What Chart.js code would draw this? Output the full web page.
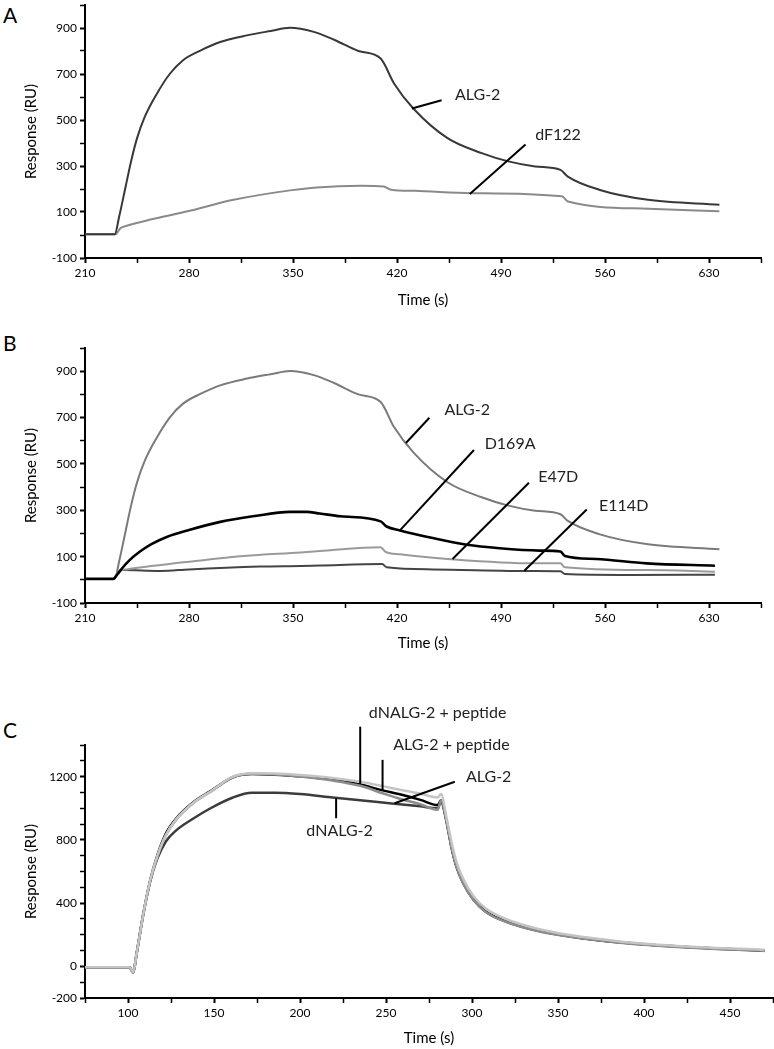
<!DOCTYPE html>
<html>
<head>
<meta charset="utf-8">
<script src="https://cdn.jsdelivr.net/npm/chart.js@4.4.1/dist/chart.umd.min.js"></script>
<style>
  body { margin: 0; background: #fff; }
  #page { position: relative; width: 774px; height: 1049px; font-family: Lato, sans-serif; }
  .panel { position: absolute; left: 0; width: 774px; }
  .letter { position: absolute; left: 3px; font-size: 21px; color: #000; line-height: 1; }
</style>
</head>
<body>
<div id="page">
  <div class="letter" style="top:4px">A</div>
  <div class="letter" style="top:332px">B</div>
  <div class="letter" style="top:719px">C</div>
  <div class="panel" style="top:0;height:320px"><canvas id="chartA"></canvas></div>
  <div class="panel" style="top:320px;height:335px"><canvas id="chartB"></canvas></div>
  <div class="panel" style="top:690px;height:359px"><canvas id="chartC"></canvas></div>
</div>
<script>
// ---- panel A / B : ALG-2 (same sensorgram in both panels)
var timeAlg = [210, 230, 233, 237, 241, 245, 250, 258, 267, 276, 288, 301, 319, 335, 348, 364, 378, 394, 409, 418, 431, 454, 477, 495, 513, 530, 535, 556, 589, 637];
var respAlg = [3, 3, 80, 200, 320, 420, 510, 610, 700, 760, 803, 839, 868, 887, 901, 883, 848, 800, 767, 659, 550, 421, 356, 320, 298, 283, 254, 197, 153, 132];

var timeDF122 = [210, 230, 231, 234, 238, 254, 279, 310, 348, 366, 396, 411, 416, 432, 470, 531, 535, 589, 637];
var respDF122 = [3, 3, 5, 30, 40, 67, 103, 153, 194, 207, 214, 211, 197, 192, 182, 168, 146, 114, 103];

// ---- panel B mutants
var timeD169A = [210, 229, 232, 235, 240, 247, 255, 265, 280, 301, 323, 348, 359, 368, 382, 409, 413, 422, 444, 467, 489, 516, 530, 533, 554, 588, 634];
var respD169A = [4, 4, 25, 50, 85, 122, 155, 185, 215, 250, 274, 293, 293, 286, 274, 252, 230, 213, 180, 151, 136, 126, 122, 103, 90, 71, 61];

var timeE47D = [210, 229, 233, 238, 280, 317, 355, 368, 409, 412, 422, 456, 512, 530, 533, 588, 634];
var respE47D = [4, 4, 38, 45, 78, 103, 118, 124, 141, 122, 110, 89, 71, 71, 54, 42, 35];

var timeE114D = [210, 229, 233, 235, 261, 280, 328, 355, 368, 410, 413, 444, 512, 530, 533, 577, 634];
var respE114D = [4, 4, 38, 42, 38, 45, 57, 60, 62, 68, 54, 45, 38, 37, 25, 21, 22];

// ---- panel C
var timeC = [75, 101, 103, 105, 109, 113, 117, 122, 128, 138, 148, 161, 172, 185, 200, 219, 235, 248, 258, 270, 280, 282, 285, 288, 291, 295, 301, 308, 320, 338, 357, 386, 425, 470];
var respDNPep = [-5, -5, -40, 80, 337, 548, 700, 840, 935, 1038, 1108, 1196, 1216, 1212, 1202, 1180, 1150, 1113, 1088, 1053, 1020, 1050, 930, 760, 632, 527, 421, 347, 284, 227, 190, 152, 122, 100];
var respAlgPep = [-5, -5, -40, 80, 337, 548, 695, 830, 930, 1035, 1106, 1200, 1222, 1219, 1210, 1192, 1167, 1140, 1117, 1092, 1068, 1090, 950, 790, 660, 550, 442, 366, 298, 238, 198, 158, 126, 104];
var respAlgC = [-5, -5, -40, 80, 337, 548, 695, 830, 928, 1033, 1104, 1195, 1218, 1213, 1200, 1175, 1142, 1095, 1060, 1025, 990, 1050, 925, 755, 628, 522, 418, 344, 280, 224, 187, 150, 120, 98];
var respDN = [-5, -5, -40, 80, 337, 540, 680, 790, 860, 935, 1000, 1068, 1098, 1098, 1090, 1068, 1050, 1036, 1025, 1012, 1000, 1040, 925, 757, 630, 525, 420, 346, 283, 226, 189, 151, 121, 99];

// labels [text, time, response, align] and leader lines [t1, r1, t2, r2]
var labelsA = [["ALG-2", 459, 608], ["dF122", 513, 435]];
var leadersA = [[430, 550, 450, 586], [469, 178, 506.5, 394]];
var labelsB = [["ALG-2", 452, 735], ["D169A", 479, 586], ["E47D", 515, 445], ["E114D", 556, 320]];
var leadersB = [[426, 590, 441.8, 699], [422, 213, 471.8, 560], [457.4, 90, 508.8, 419], [505.7, 39, 547.7, 303]];
var labelsC = [["dNALG-2 + peptide", 280, 1604, "center"], ["ALG-2 + peptide", 288, 1400, "center"], ["ALG-2", 296.5, 1200], ["dNALG-2", 223, 859, "center"]];
var leadersC = [[235, 1516, 235, 1154], [248, 1306, 248, 1112], [255, 1032, 290, 1168], [221, 1063, 221, 937]];

var FONT = "Lato, sans-serif";

function pts(t, r) {
  return t.map(function (v, i) { return { x: v, y: r[i] }; });
}

function series(label, t, r, color, width) {
  return {
    label: label,
    data: pts(t, r),
    borderColor: color,
    borderWidth: width,
    pointRadius: 0,
    cubicInterpolationMode: "monotone",
    fill: false
  };
}

var annotate = {
  id: "annotate",
  afterDatasetsDraw: function (chart, args, opts) {
    var ctx = chart.ctx, x = chart.scales.x, y = chart.scales.y;
    ctx.save();
    ctx.strokeStyle = "#000";
    ctx.lineWidth = 2;
    opts.leaders.forEach(function (l) {
      ctx.beginPath();
      ctx.moveTo(x.getPixelForValue(l[0]), y.getPixelForValue(l[1]));
      ctx.lineTo(x.getPixelForValue(l[2]), y.getPixelForValue(l[3]));
      ctx.stroke();
    });
    ctx.font = "16px " + FONT;
    ctx.fillStyle = "#222";
    ctx.textBaseline = "middle";
    opts.labels.forEach(function (l) {
      ctx.textAlign = l[3] || "left";
      ctx.fillText(l[0], x.getPixelForValue(l[1]), y.getPixelForValue(l[2]));
    });
    ctx.restore();
  }
};

function axis(min, max, step, isMajor, title, fitSize, horizontal) {
  return {
    type: "linear",
    min: min,
    max: max,
    border: { display: true, color: "#000", width: 2 },
    grid: {
      drawOnChartArea: false,
      drawTicks: true,
      tickLength: 5,
      tickColor: "#000",
      tickWidth: function (c) { return c.tick && isMajor(c.tick.value) ? 2 : 1.5; }
    },
    ticks: {
      stepSize: step,
      maxTicksLimit: 100,
      autoSkip: false,
      maxRotation: 0,
      padding: 3,
      color: "#000",
      font: { family: FONT, size: 12 },
      callback: function (v) { return isMajor(v) ? String(v) : ""; }
    },
    title: {
      display: true,
      text: title,
      color: "#000",
      font: { family: FONT, size: 15 },
      padding: { top: 0, bottom: 0 }
    },
    afterFit: function (s) {
      if (horizontal) s.height = fitSize; else s.width = fitSize;
      s.paddingLeft = 0; s.paddingRight = 0; s.paddingTop = 0; s.paddingBottom = 0;
    }
  };
}

function makeChart(id, datasets, xAxis, yAxis, pad, labels, leaders) {
  return new Chart(document.getElementById(id), {
    type: "line",
    data: { datasets: datasets },
    options: {
      responsive: true,
      maintainAspectRatio: false,
      animation: false,
      layout: { padding: pad },
      plugins: {
        legend: { display: false },
        tooltip: { enabled: false },
        annotate: { labels: labels, leaders: leaders }
      },
      scales: { x: xAxis, y: yAxis }
    },
    plugins: [annotate]
  });
}

var majorX = function (v) { return (v - 210) % 70 === 0; };
var majorY = function (v) { return (v + 100) % 200 === 0; };

makeChart("chartA", [
    series("ALG-2", timeAlg, respAlg, "#383838", 2),
    series("dF122", timeDF122, respDF122, "#8a8a8a", 2)
  ],
  axis(210, 665, 35, majorX, "Time (s)", 51, true),
  axis(-100, 1000, 100, majorY, "Response (RU)", 63, false),
  { left: 22, right: 13, top: 5, bottom: 11 }, labelsA, leadersA);

makeChart("chartB", [
    series("D169A", timeD169A, respD169A, "#000", 2.6),
    series("ALG-2", timeAlg, respAlg, "#7a7a7a", 2),
    series("E47D", timeE47D, respE47D, "#9a9a9a", 2),
    series("E114D", timeE114D, respE114D, "#444", 2)
  ],
  axis(210, 665, 35, majorX, "Time (s)", 49, true),
  axis(-100, 1000, 100, majorY, "Response (RU)", 63, false),
  { left: 22, right: 13, top: 28, bottom: 3 }, labelsB, leadersB);

makeChart("chartC", [
    series("ALG-2 + peptide", timeC, respAlgPep, "#c4c4c4", 2.5),
    series("ALG-2", timeC, respAlgC, "#8c8c8c", 2.5),
    series("dNALG-2 + peptide", timeC, respDNPep, "#000", 2.5),
    series("dNALG-2", timeC, respDN, "#3c3c3c", 2.5)
  ],
  axis(75, 475, 25, function (v) { return v % 50 === 0; }, "Time (s)", 49, true),
  axis(-200, 1400, 100, function (v) { return v === -200 || v % 400 === 0; }, "Response (RU)", 63, false),
  { left: 22, right: 1, top: 55, bottom: 2 }, labelsC, leadersC);
</script>
</body>
</html>
